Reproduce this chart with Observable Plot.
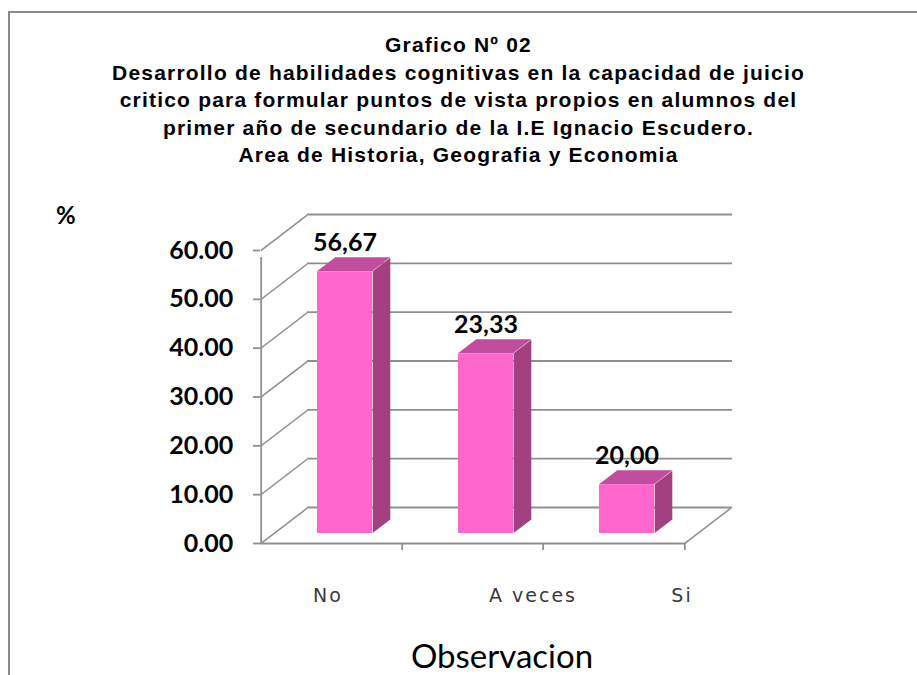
<!DOCTYPE html>
<html>
<head>
<meta charset="utf-8">
<script src="https://cdn.jsdelivr.net/npm/d3@7"></script>
<script src="https://cdn.jsdelivr.net/npm/@observablehq/plot@0.6"></script>
<style>
  body { margin: 0; background: #fff; }
  #wrap { position: relative; width: 917px; height: 675px; overflow: hidden; background: #fff; }
  #frame { position: absolute; left: 8px; top: 11px; width: 930px; height: 700px;
           border-left: 2px solid #8a8a8a; border-top: 2px solid #8a8a8a; }
  #title { position: absolute; left: 0; top: 31px; width: 917px; text-align: center;
           font: bold 21px "Liberation Sans", Arial, sans-serif; letter-spacing: 1.2px;
           line-height: 27.5px; color: #000; }
  #pct { position: absolute; left: 56px; top: 200px; font: bold 24px Lato, sans-serif; line-height: 30px; color: #000; }
  #xtitle { position: absolute; left: 402px; width: 200px; top: 640px; text-align: center;
            font: 33px Lato, sans-serif; line-height: 30px; color: #000; }
  #chart { position: absolute; left: 0; top: 0; }
</style>
</head>
<body>
<div id="wrap">
  <div id="frame"></div>
  <div id="chart"></div>
  <div id="title">Grafico Nº 02<br>Desarrollo de habilidades cognitivas en la capacidad de juicio<br>critico para formular puntos de vista propios en alumnos del<br>primer año de secundario de la I.E Ignacio Escudero.<br>Area de Historia, Geografia y Economia</div>
  <div id="pct">%</div>
  <div id="xtitle">Observacion</div>
</div>
<script>
// ---- data ----
const categories = ["No", "A veces", "Si"];
const barValues = [53.6, 36.8, 10.0];
const barLabels = ["56,67", "23,33", "20,00"];
const yTicks = [0, 10, 20, 30, 40, 50, 60];

const data = categories.map((c, i) => ({cat: c, value: barValues[i], label: barLabels[i]}));

// ---- layout / style ----
const W = 917, H = 675, mL = 260, mR = 232, mT = 250, mB = 132;
const band = (W - mL - mR) / categories.length;
const depthX = 47, depthY = 36;              // 3D wall depth in px
const fX = 13, fY = -10;                     // bar front offset
const sX = 18.3, sY = 14;                    // bar depth
const barInset = 43;
const grid = "#8f8f8f", gridW = 1.8;
const diagColor = "#8f8f90", floorDiagColor = "#8f8f91";
const sideColor = "#a3407f", topColor = "#c24d9f", frontColor = "#ff66cc";
const wallAngle = -Math.atan(depthY / depthX) * 180 / Math.PI;
const topAngle = -Math.atan(depthX / depthY) * 180 / Math.PI;
const labelShift = [-4, 60, 68];
const first = () => categories[0];
const last = () => categories[categories.length - 1];

const marks = [
  // back wall gridlines
  Plot.ruleY(yTicks, {y: d => d, dx: depthX, dy: -depthY, stroke: grid, strokeWidth: gridW}),
  // side wall diagonals
  Plot.tickY(yTicks, {x: first, y: d => d, insetLeft: 0, insetRight: band - depthX,
    stroke: diagColor, strokeWidth: gridW}),
  // floor right diagonal
  Plot.tickY([0], {x: last, y: d => d, insetLeft: band, insetRight: -depthX,
    stroke: floorDiagColor, strokeWidth: gridW}),
  // floor front line
  Plot.ruleY([0], {y: d => d, stroke: grid, strokeWidth: gridW}),
  // front vertical axis
  Plot.ruleX([categories[0]], {x: d => d, dx: -band / 2, y1: 0, y2: 60, insetBottom: -7,
    stroke: grid, strokeWidth: gridW}),
  // x boundary ticks
  Plot.ruleX(categories.slice(1), {x: d => d, dx: -band / 2, y1: 0, y2: 0, insetBottom: -7,
    stroke: grid, strokeWidth: gridW}),
  Plot.ruleX([categories[categories.length - 1]], {x: d => d, dx: band / 2, y1: 0, y2: 0, insetBottom: -7,
    stroke: grid, strokeWidth: gridW}),
  // y ticks
  Plot.tickY(yTicks, {x: first, y: d => d, insetLeft: -8, insetRight: band,
    stroke: grid, strokeWidth: gridW}),
  // bars: side, top, front
  Plot.barY(data, {x: "cat", y: "value", insetLeft: band - barInset, insetRight: barInset - sX,
    dx: fX, dy: fY, fill: sideColor}),
  Plot.barY(data, {x: "cat", y1: "value", y2: "value", insetTop: -sY, insetLeft: barInset, insetRight: barInset,
    dx: fX, dy: fY, fill: topColor}),
  Plot.barY(data, {x: "cat", y: "value", insetLeft: barInset, insetRight: barInset,
    dx: fX, dy: fY, fill: frontColor}),
  // data labels
  Plot.text(data, {x: "cat", y: "value", text: "label", dx: fX, dy: fY - 21, lineAnchor: "bottom",
    fontSize: 25, fontWeight: "bold", fontFamily: "Lato", fill: "#000"}),
  // y tick labels
  Plot.text(yTicks, {x: first, y: d => d, dx: -band / 2 - 28, text: d => d.toFixed(2), textAnchor: "end",
    lineAnchor: "middle", fontSize: 25, fontWeight: "bold", fontFamily: "Lato", fill: "#000"}),
  // x tick labels
  ...categories.map((c, i) => Plot.text([c], {x: d => d, y: () => 0, dx: labelShift[i], dy: 52, text: d => d,
    lineAnchor: "middle", fontSize: 19, fontFamily: "DejaVu Sans", fill: "#3a3a3b"}))
];

const chart = Plot.plot({
  width: W, height: H,
  marginLeft: mL, marginRight: mR, marginTop: mT, marginBottom: mB,
  style: {background: "transparent", overflow: "visible"},
  x: {type: "band", domain: categories, padding: 0, axis: null},
  y: {domain: [0, 60], axis: null},
  marks
});

// oblique projection: skew the wall diagonals and bar faces
const root = d3.select(chart);
const skewYAbout = (x0) => `translate(${x0},0) skewY(${wallAngle}) translate(${-x0},0)`;
root.selectAll("g").filter(function () {
  const s = (this.getAttribute("stroke") || "").toLowerCase();
  return s === diagColor || s === floorDiagColor;
}).selectAll("line").each(function () {
  this.setAttribute("transform", skewYAbout(+this.getAttribute("x1")));
});
root.selectAll("g").filter(function () {
  return (this.getAttribute("fill") || "").toLowerCase() === sideColor;
}).selectAll("rect").each(function () {
  this.setAttribute("transform", skewYAbout(+this.getAttribute("x")));
});
root.selectAll("g").filter(function () {
  return (this.getAttribute("fill") || "").toLowerCase() === topColor;
}).selectAll("rect").each(function () {
  const y0 = +this.getAttribute("y") + +this.getAttribute("height");
  this.setAttribute("transform", `translate(0,${y0}) skewX(${topAngle}) translate(0,${-y0})`);
});
root.selectAll("g").filter(function () {
  return (this.getAttribute("fill") || "").toLowerCase() === "#3a3a3b";
}).style("letter-spacing", "2px");

document.getElementById("chart").appendChild(chart);
</script>
</body>
</html>
